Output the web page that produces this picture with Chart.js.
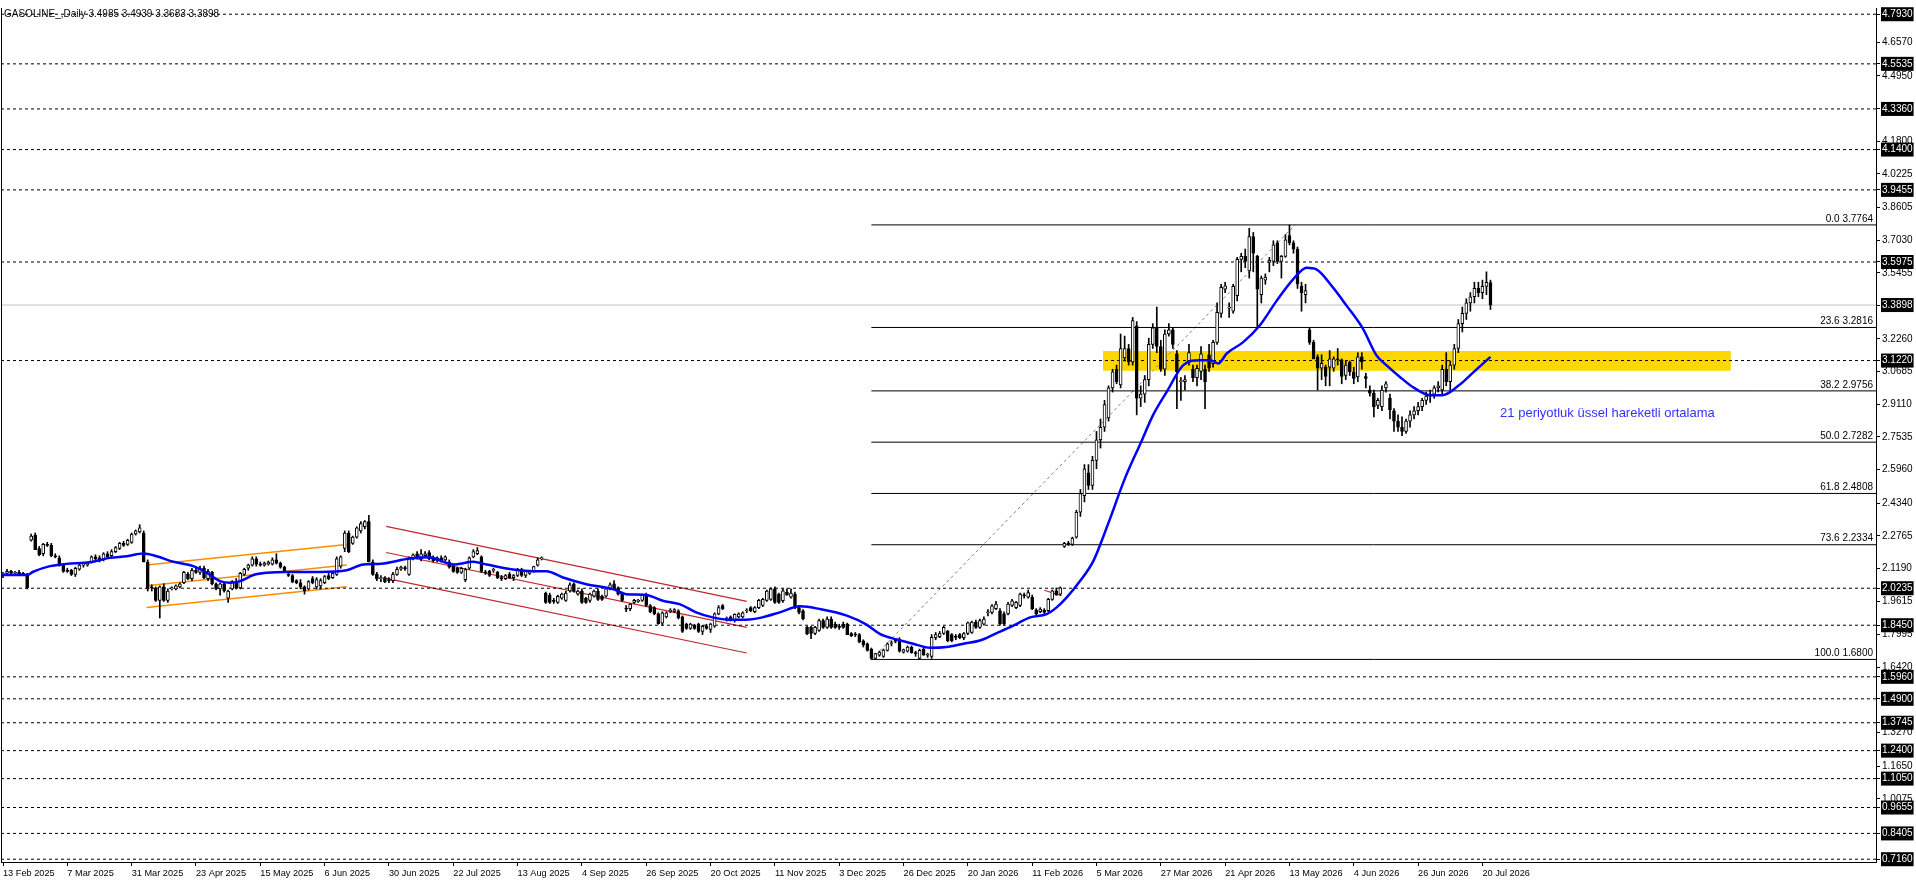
<!DOCTYPE html>
<html>
<head>
<meta charset="utf-8">
<script src="https://cdn.jsdelivr.net/npm/chart.js@4.4.1/dist/chart.umd.min.js"></script>
<style>
html, body { margin: 0; padding: 0; background: #fff; }
canvas { display: block; }
</style>
</head>
<body>
<canvas id="chart" width="1916" height="888"></canvas>
<script>
// GASOLINE_ daily candles, bar index 0 = 13 Feb 2025
const opens = [
2.09,2.095,2.105,2.095,2.10,2.092,2.09,2.255,2.28,2.215,
2.19,2.235,2.23,2.18,2.17,2.135,2.11,2.11,2.09,2.115,
2.135,2.135,2.15,2.175,2.17,2.16,2.19,2.18,2.20,2.215,
2.24,2.235,2.245,2.285,2.295,2.29,2.15,2.03,2.025,1.965,
2.03,1.965,2.02,2.02,2.03,2.05,2.09,2.07,2.11,2.10,
2.12,2.07,2.10,2.045,2.02,2.045,1.975,2.02,2.055,2.025,
2.09,2.12,2.135,2.165,2.14,2.135,2.14,2.14,2.16,2.145,
2.125,2.09,2.085,2.06,2.05,2.03,2.02,2.07,2.03,2.035,
2.05,2.085,2.075,2.09,2.13,2.215,2.29,2.24,2.27,2.30,
2.32,2.345,2.15,2.09,2.07,2.075,2.065,2.06,2.09,2.115,
2.12,2.09,2.165,2.19,2.165,2.18,2.195,2.17,2.155,2.17,
2.16,2.15,2.13,2.12,2.10,2.065,2.12,2.175,2.19,2.175,
2.10,2.105,2.11,2.10,2.075,2.07,2.09,2.075,2.085,2.115,
2.085,2.095,2.105,2.135,2.165,2.00,1.99,1.965,1.955,1.975,
1.965,2.01,2.045,1.995,2.01,1.975,1.965,1.985,2.01,1.985,
1.985,2.02,2.045,2.025,2.00,1.925,1.925,1.955,1.96,1.965,
1.985,1.94,1.93,1.90,1.855,1.885,1.91,1.912,1.915,1.885,
1.85,1.83,1.845,1.85,1.815,1.84,1.825,1.84,1.90,1.94,
1.875,1.885,1.87,1.885,1.885,1.915,1.93,1.91,1.93,1.94,
1.965,1.97,2.02,1.995,1.963,2.005,1.98,1.995,1.93,1.915,
1.835,1.835,1.805,1.82,1.867,1.835,1.875,1.85,1.837,1.85,
1.85,1.805,1.80,1.80,1.77,1.755,1.73,1.685,1.70,1.695,
1.724,1.757,1.768,1.771,1.715,1.72,1.74,1.71,1.685,1.73,
1.70,1.695,1.785,1.79,1.805,1.815,1.80,1.787,1.80,1.785,
1.805,1.81,1.86,1.835,1.85,1.905,1.907,1.925,1.915,1.90,
1.90,1.94,1.93,1.94,1.988,1.98,1.98,1.918,1.91,1.918,
1.915,1.97,2.011,1.995,2.225,2.24,2.235,2.27,2.39,2.47,
2.58,2.52,2.64,2.74,2.80,2.845,2.99,3.08,3.005,3.135,
3.18,3.115,3.29,2.94,2.96,3.03,3.20,3.28,3.19,3.08,
3.25,3.27,3.155,3.02,3.02,3.12,3.08,3.04,3.07,3.08,
3.15,3.107,3.21,3.35,3.467,3.375,3.36,3.435,3.61,3.625,
3.555,3.72,3.625,3.44,3.51,3.595,3.60,3.69,3.60,3.625,
3.725,3.69,3.66,3.48,3.44,3.27,3.21,3.14,3.085,3.09,
3.09,3.085,3.13,3.125,3.05,3.115,3.068,3.043,3.14,3.045,
2.98,2.965,2.906,2.90,2.99,2.94,2.88,2.83,2.80,2.78,
2.83,2.86,2.88,2.90,2.93,2.95,2.96,2.99,2.98,3.08,
3.02,3.10,3.18,3.30,3.35,3.40,3.43,3.47,3.45,3.48,
3.4985
];
const highs = [
2.10,2.115,2.11,2.105,2.11,2.10,2.095,2.285,2.29,2.225,
2.24,2.245,2.24,2.19,2.18,2.14,2.12,2.115,2.125,2.14,
2.145,2.15,2.18,2.185,2.18,2.195,2.20,2.21,2.225,2.245,
2.25,2.26,2.29,2.305,2.33,2.30,2.16,2.04,2.03,2.035,
2.045,2.02,2.03,2.04,2.05,2.105,2.10,2.12,2.125,2.13,
2.13,2.115,2.105,2.05,2.05,2.05,2.015,2.06,2.07,2.10,
2.12,2.14,2.175,2.175,2.15,2.15,2.155,2.17,2.19,2.15,
2.13,2.095,2.09,2.065,2.065,2.035,2.06,2.08,2.075,2.07,
2.085,2.095,2.10,2.175,2.18,2.30,2.30,2.275,2.32,2.345,
2.35,2.375,2.16,2.10,2.085,2.08,2.075,2.10,2.125,2.13,
2.13,2.175,2.19,2.20,2.21,2.20,2.205,2.18,2.175,2.18,
2.18,2.16,2.14,2.125,2.125,2.12,2.175,2.21,2.22,2.18,
2.11,2.11,2.12,2.105,2.085,2.09,2.10,2.09,2.12,2.12,
2.11,2.11,2.13,2.17,2.175,2.005,2.00,1.975,1.99,2.00,
2.01,2.05,2.05,2.015,2.02,1.98,2.00,2.015,2.02,1.99,
2.025,2.05,2.06,2.03,2.005,1.94,1.95,1.97,1.97,1.995,
2.00,1.945,1.935,1.905,1.91,1.91,1.925,1.925,1.92,1.89,
1.855,1.855,1.85,1.855,1.845,1.85,1.855,1.905,1.94,1.945,
1.885,1.89,1.90,1.905,1.91,1.925,1.935,1.935,1.97,1.975,
2.015,2.025,2.03,2.00,2.02,2.02,2.02,2.005,1.94,1.92,
1.84,1.84,1.84,1.875,1.875,1.885,1.885,1.86,1.85,1.86,
1.855,1.81,1.81,1.805,1.775,1.76,1.735,1.71,1.72,1.73,
1.76,1.77,1.78,1.785,1.73,1.745,1.745,1.72,1.73,1.74,
1.71,1.80,1.81,1.815,1.84,1.82,1.805,1.80,1.805,1.81,
1.86,1.865,1.87,1.875,1.885,1.92,1.945,1.96,1.925,1.91,
1.955,1.97,1.96,2.00,2.00,2.015,1.99,1.925,1.93,1.925,
1.975,2.015,2.025,2.03,2.245,2.25,2.27,2.40,2.50,2.62,
2.62,2.66,2.78,2.84,2.93,3.00,3.08,3.10,3.25,3.24,
3.20,3.33,3.31,3.00,3.05,3.23,3.30,3.38,3.22,3.27,
3.30,3.28,3.17,3.04,3.05,3.20,3.10,3.10,3.19,3.10,
3.20,3.22,3.40,3.49,3.50,3.40,3.49,3.62,3.64,3.66,
3.76,3.74,3.63,3.53,3.54,3.62,3.70,3.70,3.63,3.73,
3.776,3.70,3.67,3.50,3.49,3.28,3.22,3.15,3.15,3.10,
3.17,3.14,3.18,3.13,3.12,3.12,3.09,3.16,3.16,3.06,
3.00,2.98,2.94,3.00,3.02,2.96,2.89,2.86,2.85,2.84,
2.88,2.90,2.92,2.94,2.97,2.98,3.00,3.02,3.10,3.16,
3.12,3.20,3.32,3.38,3.42,3.45,3.50,3.50,3.51,3.55,
3.51
];
const lows = [
2.075,2.085,2.09,2.085,2.09,2.085,2.02,2.25,2.21,2.18,
2.18,2.225,2.175,2.17,2.13,2.10,2.10,2.085,2.08,2.11,
2.125,2.13,2.145,2.155,2.15,2.155,2.17,2.175,2.195,2.21,
2.225,2.23,2.24,2.28,2.29,2.15,2.01,2.01,1.96,1.88,
1.96,1.955,2.015,2.015,2.025,2.045,2.065,2.06,2.095,2.09,
2.07,2.06,2.04,2.015,1.99,2.005,1.955,2.015,2.02,2.02,
2.085,2.11,2.13,2.13,2.13,2.13,2.135,2.135,2.14,2.12,
2.10,2.08,2.05,2.045,2.02,1.995,2.015,2.045,2.02,2.02,
2.045,2.065,2.07,2.085,2.12,2.20,2.195,2.235,2.265,2.29,
2.31,2.15,2.085,2.06,2.055,2.05,2.05,2.05,2.085,2.11,
2.11,2.085,2.16,2.165,2.155,2.175,2.16,2.15,2.15,2.15,
2.155,2.12,2.10,2.095,2.095,2.055,2.115,2.17,2.185,2.10,
2.09,2.08,2.10,2.07,2.06,2.065,2.07,2.06,2.08,2.08,
2.075,2.09,2.10,2.13,2.16,1.95,1.95,1.95,1.95,1.97,
1.96,2.005,2.005,1.99,1.95,1.95,1.955,1.98,1.965,1.965,
1.98,2.015,2.015,1.99,1.96,1.91,1.915,1.95,1.955,1.96,
1.935,1.905,1.895,1.85,1.845,1.88,1.905,1.905,1.875,1.81,
1.825,1.825,1.825,1.81,1.80,1.825,1.81,1.835,1.895,1.92,
1.865,1.865,1.86,1.88,1.88,1.905,1.91,1.905,1.925,1.935,
1.96,1.965,1.95,1.95,1.955,1.99,1.975,1.925,1.90,1.87,
1.80,1.78,1.80,1.815,1.83,1.83,1.83,1.83,1.825,1.83,
1.80,1.79,1.79,1.76,1.74,1.72,1.68,1.68,1.695,1.69,
1.72,1.745,1.76,1.715,1.71,1.715,1.71,1.695,1.68,1.70,
1.69,1.685,1.775,1.785,1.80,1.765,1.765,1.775,1.78,1.775,
1.80,1.805,1.83,1.83,1.845,1.89,1.90,1.92,1.845,1.845,
1.895,1.935,1.925,1.935,1.975,1.975,1.92,1.895,1.905,1.90,
1.91,1.965,1.99,1.99,2.22,2.23,2.23,2.265,2.37,2.44,
2.50,2.50,2.60,2.70,2.78,2.83,2.97,3.01,2.99,3.12,
3.10,3.10,2.86,2.90,2.92,3.00,3.18,3.16,3.07,3.05,
3.24,3.18,2.89,2.93,2.98,3.10,3.02,3.00,3.03,2.89,
3.07,3.09,3.20,3.33,3.45,3.33,3.35,3.41,3.55,3.57,
3.52,3.55,3.28,3.40,3.49,3.55,3.58,3.59,3.52,3.62,
3.68,3.64,3.47,3.36,3.40,3.20,3.13,2.98,3.03,3.00,
3.00,3.07,3.10,3.01,3.03,3.05,3.01,3.02,3.08,2.99,
2.95,2.85,2.89,2.88,2.97,2.84,2.78,2.78,2.76,2.77,
2.80,2.84,2.86,2.88,2.91,2.92,2.94,2.97,2.96,3.00,
2.98,3.08,3.16,3.26,3.32,3.36,3.40,3.43,3.42,3.44,
3.3683
];
const closes = [
2.095,2.105,2.095,2.10,2.092,2.09,2.025,2.275,2.21,2.185,
2.235,2.23,2.18,2.175,2.135,2.105,2.105,2.09,2.12,2.135,
2.14,2.145,2.175,2.165,2.155,2.19,2.175,2.20,2.22,2.24,
2.23,2.255,2.285,2.30,2.315,2.15,2.02,2.025,1.965,2.03,
1.965,2.01,2.025,2.035,2.045,2.10,2.07,2.11,2.10,2.12,
2.075,2.105,2.045,2.02,2.045,2.01,2.01,2.055,2.025,2.095,
2.115,2.135,2.165,2.14,2.135,2.145,2.15,2.16,2.145,2.125,
2.105,2.085,2.055,2.05,2.03,2.01,2.055,2.05,2.065,2.06,
2.08,2.07,2.095,2.165,2.175,2.29,2.20,2.27,2.315,2.335,
2.345,2.15,2.09,2.07,2.075,2.055,2.06,2.09,2.115,2.125,
2.118,2.165,2.185,2.17,2.19,2.19,2.165,2.155,2.17,2.155,
2.175,2.125,2.105,2.10,2.12,2.113,2.17,2.20,2.205,2.105,
2.098,2.085,2.112,2.075,2.07,2.085,2.075,2.085,2.115,2.085,
2.105,2.105,2.128,2.16,2.168,1.955,1.955,1.96,1.985,1.995,
2.00,2.04,2.01,2.01,1.955,1.955,1.995,2.01,1.97,1.97,
2.02,2.04,2.02,1.995,1.965,1.922,1.947,1.965,1.965,1.99,
1.94,1.91,1.90,1.853,1.905,1.905,1.918,1.92,1.88,1.815,
1.83,1.85,1.83,1.815,1.84,1.83,1.85,1.90,1.93,1.925,
1.878,1.87,1.898,1.90,1.905,1.918,1.915,1.93,1.965,1.97,
2.01,2.02,1.955,1.955,2.011,1.99,2.00,1.93,1.907,1.875,
1.803,1.805,1.835,1.867,1.835,1.875,1.835,1.835,1.835,1.835,
1.80,1.795,1.798,1.765,1.75,1.724,1.685,1.708,1.715,1.725,
1.755,1.758,1.767,1.72,1.728,1.74,1.712,1.708,1.724,1.70,
1.702,1.787,1.80,1.805,1.835,1.771,1.771,1.786,1.785,1.805,
1.857,1.86,1.835,1.867,1.875,1.906,1.939,1.947,1.851,1.851,
1.947,1.963,1.955,1.995,1.987,2.003,1.925,1.899,1.923,1.907,
1.97,2.011,1.99,2.025,2.24,2.235,2.265,2.39,2.48,2.60,
2.52,2.64,2.74,2.80,2.91,2.99,3.067,3.02,3.18,3.18,
3.115,3.315,2.94,2.96,3.03,3.20,3.28,3.19,3.08,3.25,
3.27,3.20,3.068,3.022,3.03,3.16,3.04,3.085,3.155,3.02,
3.085,3.21,3.355,3.475,3.483,3.378,3.48,3.61,3.625,3.60,
3.72,3.64,3.467,3.52,3.525,3.605,3.68,3.60,3.625,3.705,
3.69,3.66,3.49,3.45,3.46,3.21,3.13,3.085,3.108,3.045,
3.13,3.13,3.125,3.045,3.10,3.068,3.036,3.14,3.115,3.036,
2.965,2.90,2.93,2.98,3.01,2.885,2.83,2.80,2.78,2.83,
2.86,2.88,2.90,2.93,2.95,2.96,2.99,3.00,3.08,3.02,
3.10,3.18,3.30,3.35,3.40,3.43,3.47,3.45,3.48,3.50,
3.3898
];

// 21 period EMA (bar index, price)
const emaBars = [-0.5,6,7.5,11.7,15.8,21.6,26.6,30.8,34.9,38.2,42.4,47.3,50.7,54,56.5,59,62.3,65.6,70.6,78.8,
  85.5,89.6,94,101.2,106.2,109.5,112,117,120.3,126.9,131.9,135.2,139.3,145.1,151.7,155,160,164.1,168.3,172.4,
  176.5,180.7,184.8,188.9,193.2,198.3,203.2,209.9,214.8,218.1,222.3,226.4,230.6,234.7,238.9,243,247.2,251.3,255.5,259.6,
  262.1,264.6,267.9,271.2,275,279,283.2,286.1,289.5,293.6,297.7,300.3,302.3,304.4,308.5,312.6,316.8,320.9,324.3,326.7,
  330.8,334.2,338.3,341.6,344.1,347.4,351,355,358,362,366,370];
const emaValues = [2.087,2.087,2.103,2.13,2.141,2.149,2.17,2.178,2.191,2.178,2.151,2.13,2.098,2.058,2.05,2.058,2.087,2.098,2.102,2.102,
  2.11,2.138,2.142,2.167,2.173,2.151,2.138,2.151,2.138,2.114,2.106,2.106,2.075,2.043,2.019,1.995,1.991,1.963,1.947,1.907,
  1.883,1.872,1.872,1.883,1.907,1.936,1.923,1.891,1.848,1.803,1.776,1.756,1.736,1.74,1.756,1.771,1.807,1.843,1.883,1.899,
  1.931,1.979,2.058,2.154,2.34,2.55,2.733,2.86,2.972,3.1,3.124,3.124,3.108,3.156,3.211,3.291,3.41,3.514,3.57,3.562,
  3.475,3.387,3.275,3.148,3.1,3.044,2.99,2.955,2.955,3.0,3.07,3.14];

// x axis date labels, one every 16 bars
const tickBars = [0,16,32,48,64,80,96,112,128,144,160,176,192,208,224,240,256,272,288,304,320,336,352,368];
const dateLabels = ['13 Feb 2025','7 Mar 2025','31 Mar 2025','23 Apr 2025','15 May 2025','6 Jun 2025','30 Jun 2025',
  '22 Jul 2025','13 Aug 2025','4 Sep 2025','26 Sep 2025','20 Oct 2025','11 Nov 2025','3 Dec 2025','26 Dec 2025',
  '20 Jan 2026','11 Feb 2026','5 Mar 2026','27 Mar 2026','21 Apr 2026','13 May 2026','4 Jun 2026','26 Jun 2026','20 Jul 2026'];

// price scale labels
const priceTicks = [4.6570,4.4950,4.1800,4.0225,3.8605,3.7030,3.5455,3.2260,3.0685,2.9110,2.7535,2.5960,2.4340,
  2.2765,2.1190,1.9615,1.7995,1.6420,1.3270,1.1650,1.0075];
const hLevels = [4.7930,4.5535,4.3360,4.1400,3.9455,3.5975,3.1220,2.0235,1.8450,1.5960,1.4900,1.3745,1.2400,
  1.1050,0.9655,0.8405,0.7160];
const lastPrice = 3.3898;

// fibonacci retracement
const fibStartBar = 216;
const fibPcts = ['0.0','23.6','38.2','50.0','61.8','73.6','100.0'];
const fibLevels = [3.7764,3.2816,2.9756,2.7282,2.4808,2.2334,1.6800];
const fibDiagonal = [[216,1.6800],[321.4,3.7764]];

// channels (start bar, end bar, start price, end price)
const orangeBars = [35.7,85.5];
const orangeFrom = [2.135,2.035,1.931];
const orangeTo = [2.234,2.135,2.031];
const redBars = [95.3,185];
const redFrom = [2.322,2.196,2.071];
const redTo = [1.960,1.835,1.711];
const redStub = [[259,2.014],[263.3,1.987]];

// highlighted zone
const zoneBars = [273.6,429.8];
const zonePrices = [3.073,3.168];

const noteText = '21 periyotluk üssel hareketli ortalama';
const notePos = [372.4,2.848];
const titleText = 'GASOLINE_,Daily 3.4985 3.4939 3.3683 3.3898';

const xMin = -0.5, xMax = 465.9;
const yMin = 0.7026, yMax = 4.823;

const font10 = { family: 'Liberation Sans', size: 10 };
const fontDates = { family: 'Liberation Sans', size: 9.2 };
const boxedSet = new Set(hLevels.concat([lastPrice]).map(v => v.toFixed(4)));

function seg(points, color, width, dash) {
  return {
    type: 'line',
    data: points.map(p => ({ x: p[0], y: p[1] })),
    borderColor: color,
    borderWidth: width,
    borderDash: dash || [],
    pointRadius: 0,
    fill: false,
    order: 6
  };
}

const datasets = [];

// EMA on top
datasets.push({
  type: 'line',
  data: emaBars.map((b, i) => ({ x: b, y: emaValues[i] })),
  borderColor: '#0000ff',
  borderWidth: 2.5,
  pointRadius: 0,
  cubicInterpolationMode: 'monotone',
  fill: false,
  order: 1
});

// candle bodies
datasets.push({
  type: 'bar',
  data: opens.map((o, i) => ({ x: i, y: [o, closes[i]] })),
  backgroundColor: opens.map((o, i) => closes[i] >= o ? '#ffffff' : '#000000'),
  borderColor: '#000000',
  borderWidth: 1,
  borderSkipped: false,
  barThickness: 3,
  minBarLength: 1,
  grouped: false,
  order: 2
});

// wicks
datasets.push({
  type: 'bar',
  data: lows.map((l, i) => ({ x: i, y: [l, highs[i]] })),
  backgroundColor: '#000000',
  borderWidth: 0,
  barThickness: 1,
  grouped: false,
  order: 3
});

hLevels.forEach(v => datasets.push(seg([[xMin, v], [xMax, v]], '#000000', 1, [3, 3])));
datasets.push(seg([[xMin, lastPrice], [xMax, lastPrice]], '#c0c0c0', 1));
fibLevels.forEach(v => datasets.push(seg([[fibStartBar, v], [xMax, v]], '#000000', 1)));
datasets.push(seg(fibDiagonal, '#808080', 1, [3, 3]));
orangeFrom.forEach((v, i) => datasets.push(seg([[orangeBars[0], v], [orangeBars[1], orangeTo[i]]], '#ff8c00', 1.5)));
redFrom.forEach((v, i) => datasets.push(seg([[redBars[0], v], [redBars[1], redTo[i]]], '#c0282d', 1.2)));
datasets.push(seg(redStub, '#c0282d', 1.2));

// yellow zone
datasets.push({
  type: 'line',
  data: [{ x: zoneBars[0], y: zonePrices[1] }, { x: zoneBars[1], y: zonePrices[1] }],
  borderWidth: 0,
  borderColor: 'rgba(0,0,0,0)',
  backgroundColor: '#ffd700',
  pointRadius: 0,
  fill: { value: zonePrices[0] },
  order: 9
});

const overlay = {
  id: 'overlay',
  afterDraw(chart) {
    const ctx = chart.ctx;
    const a = chart.chartArea;
    const xs = chart.scales.x, ys = chart.scales.y;
    ctx.save();
    ctx.strokeStyle = '#000';
    ctx.lineWidth = 1;
    ctx.beginPath();
    ctx.moveTo(a.left + 0.5, a.top);
    ctx.lineTo(a.left + 0.5, a.bottom);
    ctx.stroke();

    ctx.fillStyle = '#000';
    ctx.font = '10px "Liberation Sans"';
    ctx.textBaseline = 'middle';
    ctx.textAlign = 'left';
    ctx.fillText(titleText, a.left + 3, ys.getPixelForValue(hLevels[0]));

    ctx.textAlign = 'right';
    ctx.textBaseline = 'bottom';
    fibLevels.forEach((v, i) => {
      ctx.fillText(fibPcts[i] + ' ' + v.toFixed(4), a.right - 3, ys.getPixelForValue(v) - 1);
    });

    ctx.font = '13px "Liberation Sans"';
    ctx.fillStyle = '#3232ff';
    ctx.textAlign = 'left';
    ctx.textBaseline = 'alphabetic';
    ctx.fillText(noteText, xs.getPixelForValue(notePos[0]), ys.getPixelForValue(notePos[1]));
    ctx.restore();
  }
};

new Chart(document.getElementById('chart'), {
  type: 'bar',
  data: { datasets: datasets },
  plugins: [overlay],
  options: {
    responsive: false,
    animation: false,
    devicePixelRatio: 1,
    events: [],
    layout: { padding: { left: 1, top: 1, right: 0, bottom: 0 } },
    plugins: { legend: { display: false }, tooltip: { enabled: false } },
    scales: {
      x: {
        type: 'linear',
        position: 'bottom',
        offset: false,
        min: xMin,
        max: xMax,
        afterFit: s => { s.height = 26; },
        afterBuildTicks: s => { s.ticks = tickBars.map(v => ({ value: v })); },
        ticks: {
          autoSkip: false,
          maxRotation: 0,
          align: 'start',
          padding: 2,
          color: '#000',
          font: fontDates,
          callback: (v, i) => dateLabels[i]
        },
        grid: { offset: false, drawOnChartArea: false, drawTicks: true, tickLength: 4, color: '#000' },
        border: { color: '#000', width: 1 }
      },
      y: {
        type: 'linear',
        position: 'right',
        min: yMin,
        max: yMax,
        afterFit: s => { s.width = 40; },
        afterBuildTicks: s => {
          s.ticks = priceTicks.concat(hLevels, [lastPrice]).map(v => ({ value: v }));
        },
        ticks: {
          autoSkip: false,
          padding: 2,
          font: font10,
          callback: v => v.toFixed(4),
          color: c => boxedSet.has(c.tick.value.toFixed(4)) ? '#fff' : '#000',
          showLabelBackdrop: c => boxedSet.has(c.tick.value.toFixed(4)),
          backdropColor: '#000',
          backdropPadding: { top: 1, bottom: 1, left: 1, right: 1 }
        },
        grid: { drawOnChartArea: false, drawTicks: true, tickLength: 4, color: '#000' },
        border: { color: '#000', width: 1 }
      }
    }
  }
});
</script>
</body>
</html>
